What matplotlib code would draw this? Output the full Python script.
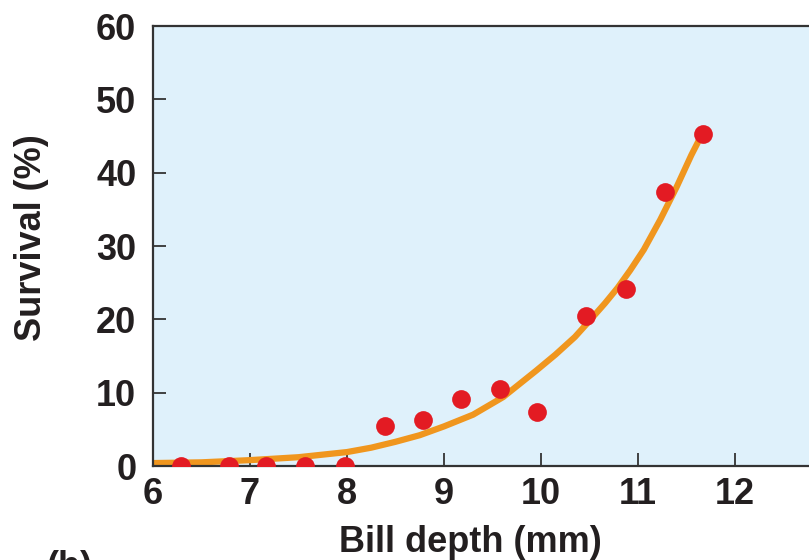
import numpy as np
import matplotlib
matplotlib.use("Agg")
from matplotlib import pyplot as plt

# ------------------------------------------------------------------------------
# Data
# ------------------------------------------------------------------------------
billDepth = [6.29, 6.78, 7.17, 7.57, 7.98, 8.39, 8.78, 9.18, 9.58, 9.96,
             10.46, 10.88, 11.28, 11.67]
survival = [0, 0, 0, 0, 0, 5.4, 6.3, 9.2, 10.5, 7.4,
            20.5, 24.1, 37.4, 45.3]

# fitted curve, sampled by eye along the orange line
curveX = [6.0, 6.5, 7.0, 7.5, 8.0, 8.25, 8.5, 8.75, 9.0, 9.3, 9.61, 9.95,
          10.15, 10.35, 10.5, 10.66, 10.79, 10.92, 11.06, 11.23, 11.40,
          11.55, 11.67]
curveY = [0.4, 0.5, 0.8, 1.2, 1.9, 2.5, 3.3, 4.2, 5.4, 7.0, 9.4, 13.0,
          15.2, 17.6, 19.8, 22.2, 24.3, 26.7, 29.5, 33.6, 38.1,
          42.4, 45.5]

xTicks = [6, 7, 8, 9, 10, 11, 12]
yTicks = [0, 10, 20, 30, 40, 50, 60]

# ------------------------------------------------------------------------------
# Plot
# ------------------------------------------------------------------------------
plt.rcParams['font.family'] = ['Liberation Sans', 'DejaVu Sans']
plt.rcParams['font.weight'] = 'bold'

W, H = 809, 560
fig = plt.figure(figsize=(W / 100, H / 100), dpi=100)
axLeft, axRight, axTop, axBottom = 153, 832, 26, 466
ax = fig.add_axes([axLeft / W, 1 - axBottom / H, (axRight - axLeft) / W, (axBottom - axTop) / H])
ax.set_facecolor('#dff1fb')

ax.plot(curveX, curveY, color='#f0961e', lw=4.5, solid_capstyle='butt',
        solid_joinstyle='round', zorder=2)
ax.plot(billDepth, survival, 'o', color='#e31b23', markersize=13.5,
        markeredgewidth=0, zorder=3)

ax.set_xlim(6, 13)
ax.set_ylim(0, 60)
ax.set_xticks(xTicks)
ax.set_yticks(yTicks)
ax.tick_params(axis='both', direction='in', length=9.5, width=1.3,
               color='#333333', labelsize=26, labelcolor='#231f20')
ax.tick_params(axis='y', pad=12)
ax.tick_params(axis='x', pad=8)

for side in ['left', 'bottom', 'top', 'right']:
    ax.spines[side].set_color('#333333')
    ax.spines[side].set_linewidth(1.6)

fig.text(470 / W, 1 - 542 / H, 'Bill depth (mm)', ha='center', va='center',
         fontsize=26, fontweight='bold', color='#231f20')
fig.text(32 / W, 1 - 238 / H, 'Survival (%)', ha='center', va='center',
         rotation=90, fontsize=26, fontweight='bold', color='#231f20')
fig.text(46 / W, 1 - 550 / H, '(b)', ha='left', va='top',
         fontsize=26, fontweight='bold', color='#231f20')

fig.savefig('out.png', dpi=100)
